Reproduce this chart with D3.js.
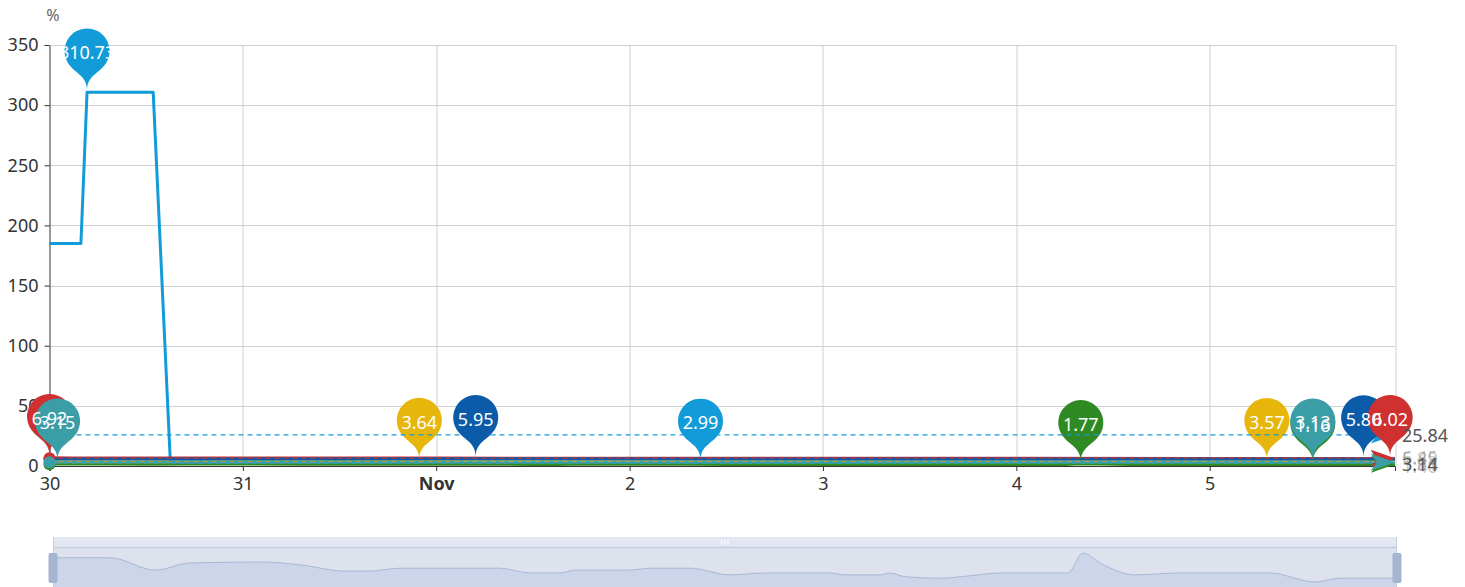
<!DOCTYPE html>
<html>
<head>
<meta charset="utf-8">
<script src="https://cdn.jsdelivr.net/npm/d3@7"></script>
<style>
  html, body { margin: 0; padding: 0; background: #fff; }
  svg { display: block; font-family: "Noto Sans", sans-serif; }
</style>
</head>
<body>
<svg id="chart" width="1465" height="587"></svg>
<script>
// hours after 30 Oct 00:00, values in %
var greenHours = [0, 7.1, 12.7, 17, 26, 30.7, 36.3, 39.4, 43.1, 55.5, 59.3, 63, 64.9, 71.7, 74.2, 79.2, 84.1, 88.5, 96.5, 98.4, 102.8, 104, 105.9, 110.2, 113.9, 117.7, 126.1, 128, 130.1, 134.4, 140, 151.2, 156.8, 159.9, 167];
var greenValues = [1.67, 1.67, 1.41, 1.56, 1.58, 1.52, 1.39, 1.39, 1.45, 1.45, 1.35, 1.35, 1.41, 1.41, 1.45, 1.45, 1.31, 1.35, 1.35, 1.31, 1.31, 1.35, 1.27, 1.24, 1.29, 1.35, 1.35, 1.77, 1.56, 1.31, 1.35, 1.35, 1.16, 1.24, 1.24];
var yellowHours = [0, 24, 45.9, 72, 100, 130, 151.1, 167];
var yellowValues = [3.6, 3.61, 3.64, 3.62, 3.6, 3.59, 3.57, 3.6];
var lightBlueHours = [0, 3.9, 4.66, 12.87, 15, 24, 48, 80.8, 110, 140, 167];
var lightBlueValues = [185, 185, 310.73, 310.73, 3.2, 3.1, 3.05, 2.99, 3.04, 3.08, 3.1];
var darkBlueHours = [0, 24, 52.9, 80, 110, 140, 163.1, 167];
var darkBlueValues = [5.9, 5.91, 5.95, 5.9, 5.88, 5.86, 5.8, 5.84];
var redHours = [0, 3, 24, 48, 72, 96, 120, 144, 160, 166.4, 167];
var redValues = [6.92, 6.7, 6.6, 6.55, 6.5, 6.45, 6.4, 6.3, 6.15, 6.02, 6.05];
var tealHours = [0, 1, 24, 60, 100, 130, 156.8, 167];
var tealValues = [3.14, 3.15, 3.14, 3.14, 3.14, 3.14, 3.13, 3.14];

var averages = [1.40, 3.61, 25.84, 5.89, 6.45, 3.14];
var tickLabels = ["30", "31", "Nov", "2", "3", "4", "5"];
var yTicks = [0, 50, 100, 150, 200, 250, 300, 350];

var seriesHours = [greenHours, yellowHours, lightBlueHours, darkBlueHours, redHours, tealHours];
var seriesValues = [greenValues, yellowValues, lightBlueValues, darkBlueValues, redValues, tealValues];
var colors = ["#2f8a23", "#e6b60c", "#129bd9", "#0b5ba8", "#cf3030", "#3b9da6"];
var lineOrder = [0, 1, 2, 4, 3, 5];

var start = Date.UTC(2023, 9, 30);
function toDate(h) { return new Date(start + h * 3600e3); }

var svg = d3.select("#chart");
var margin = { top: 45, left: 49.5, right: 70, bottom: 121 };
var width = 1395 - margin.left,
    height = 466 - margin.top;

var x = d3.scaleUtc().domain([toDate(0), toDate(167)]).range([0, width]);
var y = d3.scaleLinear().domain([0, 350]).range([height, 0]);

var g = svg.append("g")
    .attr("transform", "translate(" + margin.left + "," + margin.top + ")");

var dayTicks = tickLabels.map(function(d, i) { return toDate(i * 24); });

// grid
g.append("g").selectAll("line").data(yTicks.slice(1)).enter().append("line")
    .attr("x1", 0).attr("x2", width)
    .attr("y1", function(d) { return Math.round(y(d)) + 0.5; })
    .attr("y2", function(d) { return Math.round(y(d)) + 0.5; })
    .attr("stroke", "#d0d0d0");
g.append("g").selectAll("line").data(dayTicks.slice(1).concat([toDate(167)])).enter().append("line")
    .attr("x1", function(d) { return Math.round(x(d)) + 0.5; })
    .attr("x2", function(d) { return Math.round(x(d)) + 0.5; })
    .attr("y1", 0).attr("y2", height)
    .attr("stroke", "#d0d0d0");

// axes
var xAxis = g.append("g")
    .attr("transform", "translate(0," + height + ")")
    .call(d3.axisBottom(x).tickValues(dayTicks).tickSize(5).tickPadding(6)
      .tickFormat(function(d, i) { return tickLabels[i]; }));
xAxis.select(".domain").attr("stroke", "#333");
xAxis.selectAll(".tick line").attr("stroke", "#333");
xAxis.selectAll("text").attr("fill", "#333").style("font-size", "18px")
    .style("font-family", "Noto Sans")
    .style("font-weight", function(d, i) { return tickLabels[i] === "Nov" ? "bold" : "normal"; });

var yAxis = g.append("g")
    .call(d3.axisLeft(y).tickValues(yTicks).tickSize(5).tickPadding(6).tickSizeOuter(0));
yAxis.select(".domain").attr("stroke", "#333");
yAxis.selectAll(".tick line").attr("stroke", "#333");
yAxis.selectAll("text").attr("fill", "#333").style("font-size", "18px").style("font-family", "Noto Sans");

svg.append("text").attr("x", 53).attr("y", 21).attr("text-anchor", "middle")
    .attr("fill", "#666").style("font-size", "16px").text("%");

function pinPath(px, py, w, h) {
  var r = w / 2, dy = r * r / (h - r), cy = py - h + r + dy;
  var a = Math.asin(dy / r), dx = Math.cos(a) * r;
  var tx = Math.sin(a), ty = Math.cos(a), cp = r * 0.6, cp2 = r * 0.7;
  var p = d3.path();
  p.moveTo(px - dx, cy + dy);
  p.arc(px, cy, r, Math.PI - a, Math.PI * 2 + a);
  p.bezierCurveTo(px + dx - tx * cp, cy + dy + ty * cp, px, py - cp2, px, py);
  p.bezierCurveTo(px, py - cp2, px - dx + tx * cp, cy + dy + ty * cp, px - dx, cy + dy);
  p.closePath();
  return p.toString();
}

function arrowPath(px, py, len, half) {
  return "M" + px + "," + py + "L" + (px - len) + "," + (py - half) +
    "L" + (px - len * 0.75) + "," + py + "L" + (px - len) + "," + (py + half) + "Z";
}

var line = d3.line()
    .x(function(d) { return x(toDate(d[0])); })
    .y(function(d) { return y(d[1]); });

// series lines
lineOrder.forEach(function(s) {
  var vals = seriesValues[s];
  var pts = seriesHours[s].map(function(h, i) { return [h, vals[i]]; });
  g.append("path").datum(pts)
      .attr("d", line)
      .attr("fill", "none")
      .attr("stroke", colors[s])
      .attr("stroke-width", 3)
      .attr("stroke-linejoin", "round");
});

// average mark lines and max / min pins
var pinLabels = [];
seriesHours.forEach(function(hours, s) {
  var vals = seriesValues[s];
  var sg = g.append("g");
  var ay = y(averages[s]);
  sg.append("line")
      .attr("x1", 0).attr("x2", width - 12)
      .attr("y1", ay).attr("y2", ay)
      .attr("stroke", colors[s]).attr("stroke-width", 1.2)
      .attr("stroke-dasharray", "5,4");
  sg.append("circle").attr("cx", 0).attr("cy", ay).attr("r", 6).attr("fill", colors[s]);
  sg.append("path").attr("d", arrowPath(width, ay, 24, 8.5)).attr("fill", colors[s]);

  var iMax = d3.maxIndex(vals), iMin = d3.minIndex(vals);
  [iMax, iMin].forEach(function(i) {
    var px = x(toDate(hours[i])), py = y(vals[i]) - 2;
    sg.append("path").attr("d", pinPath(px, py, 45, 72)).attr("fill", colors[s]);
    pinLabels.push({ x: px, y: py - 38, text: d3.format(".2f")(vals[i]) });
  });
});

g.append("g").selectAll("text").data(pinLabels).enter().append("text")
    .attr("x", function(d) { return d.x; })
    .attr("y", function(d) { return d.y; })
    .attr("text-anchor", "middle")
    .attr("dominant-baseline", "central")
    .attr("fill", "#fff")
    .style("font-size", "18px")
    .text(function(d) { return d.text; });

// average labels, drawn so the teal one ends on top
g.append("g").selectAll("text").data(averages).enter().append("text")
    .attr("x", width + 7)
    .attr("y", function(d) { return d > 20 ? y(d) : d > 5 ? y(d) - 1 : y(d) + 2; })
    .attr("dominant-baseline", "central")
    .attr("fill", "#555")
    .attr("fill-opacity", function(d, i) { return i === 5 || d > 20 ? 1 : 0.35; })
    .style("font-size", "18px")
    .text(function(d) { return d3.format(".2f")(d); });

// data zoom slider
var zx0 = 53, zx1 = 1397;
var zoom = svg.append("g");
zoom.append("rect").attr("x", zx0).attr("y", 537).attr("width", zx1 - zx0).attr("height", 10).attr("fill", "#e3e7f3");
zoom.append("rect").attr("x", zx0).attr("y", 547).attr("width", zx1 - zx0).attr("height", 45).attr("fill", "#dee2ed");

var gExt = d3.extent(greenValues), pad = (gExt[1] - gExt[0]) * 0.3;
var sx = d3.scaleUtc().domain(x.domain()).range([zx0, zx1]);
var sy = d3.scaleLinear().domain([gExt[0] - pad, gExt[1] + pad]).range([590.7, 544.3]);
var shadowPts = greenHours.map(function(h, i) { return [h, greenValues[i]]; });
zoom.append("path").datum(shadowPts)
    .attr("d", d3.area().curve(d3.curveMonotoneX)
      .x(function(d) { return sx(toDate(d[0])); })
      .y0(600).y1(function(d) { return sy(d[1]); }))
    .attr("fill", "#ccd5e9");
zoom.append("path").datum(shadowPts)
    .attr("d", d3.line().curve(d3.curveMonotoneX)
      .x(function(d) { return sx(toDate(d[0])); })
      .y(function(d) { return sy(d[1]); }))
    .attr("fill", "none").attr("stroke", "#a9b7d6").attr("stroke-width", 1);
zoom.append("line").attr("x1", zx0).attr("x2", zx1).attr("y1", 547.5).attr("y2", 547.5)
    .attr("stroke", "#c6cde0").attr("stroke-width", 1.5);
zoom.append("line").attr("x1", zx0 + 0.5).attr("x2", zx0 + 0.5).attr("y1", 537).attr("y2", 587).attr("stroke", "#c6cde0");
zoom.append("line").attr("x1", zx1 - 0.5).attr("x2", zx1 - 0.5).attr("y1", 537).attr("y2", 587).attr("stroke", "#c6cde0");
[zx0, zx1].forEach(function(hx) {
  zoom.append("rect").attr("x", hx - 4.5).attr("y", 553).attr("width", 9).attr("height", 30)
      .attr("rx", 2).attr("fill", "#a5b5d2");
});
[-3, 0, 3].forEach(function(o) {
  zoom.append("rect").attr("x", (zx0 + zx1) / 2 + o - 0.75).attr("y", 539.5).attr("width", 1.5).attr("height", 5)
      .attr("fill", "#f7f9fc");
});
</script>
</body>
</html>
